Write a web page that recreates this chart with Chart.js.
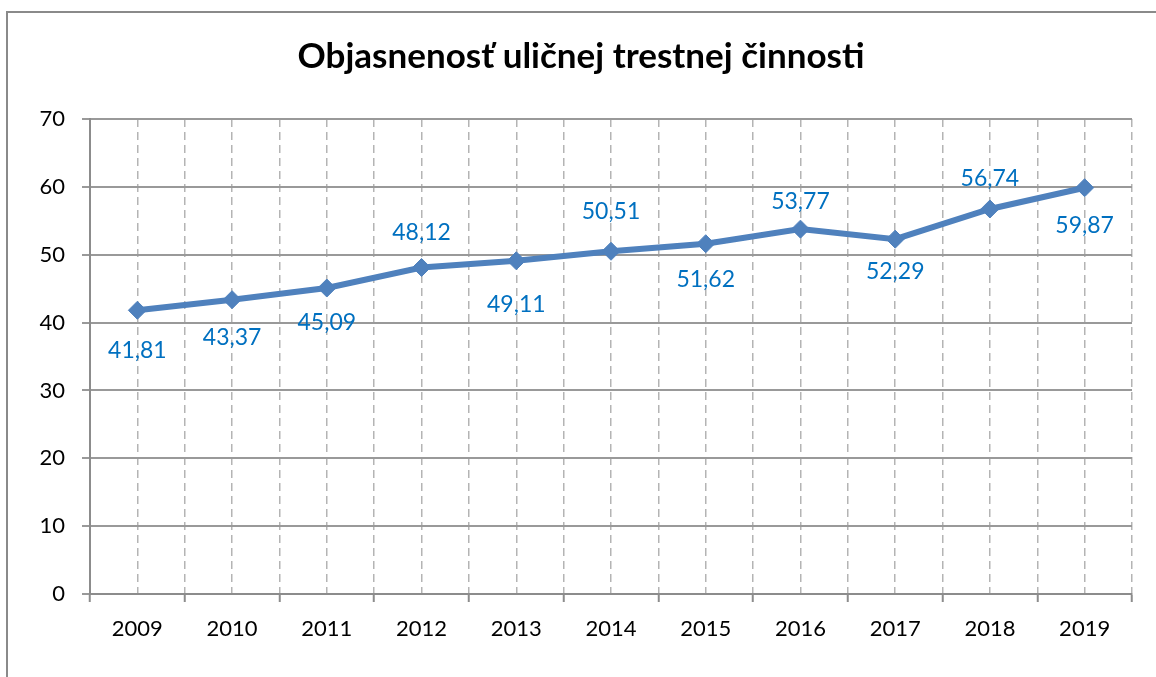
<!DOCTYPE html>
<html>
<head>
<meta charset="utf-8">
<script src="https://cdn.jsdelivr.net/npm/chart.js"></script>
<style>
  html, body { margin: 0; padding: 0; background: #fff; overflow: hidden; }
  #wrap { position: relative; width: 1156px; height: 677px; }
  #frame { position: absolute; left: 6px; top: 11px; width: 1200px; height: 720px; border: 2px solid #8a8a8a; }
  canvas { position: absolute; left: 0; top: 0; }
</style>
</head>
<body>
<div id="wrap">
  <div id="frame"></div>
  <canvas id="chartCanvas" width="1156" height="677"></canvas>
</div>
<script>
  // === Data ===
  const years = [2009, 2010, 2011, 2012, 2013, 2014, 2015, 2016, 2017, 2018, 2019];
  const values = [41.81, 43.37, 45.09, 48.12, 49.11, 50.51, 51.62, 53.77, 52.29, 56.74, 59.87];
  const yTicks = [0, 10, 20, 30, 40, 50, 60, 70];

  // vertical nudge of each value label from its point (px, negative = above)
  const labelShift = [40, 38, 35, -35, 44, -40, 36, -28, 32, -30, 38];

  const FONT = 'Lato';
  const AXIS_GRAY = '#8c8c8c';

  // === Data labels (no datalabels plugin available) ===
  const dataLabels = {
    id: 'dataLabels',
    afterDatasetsDraw(chart) {
      const { ctx } = chart;
      const meta = chart.getDatasetMeta(0);
      ctx.save();
      ctx.font = `23px ${FONT}`;
      ctx.fillStyle = '#0070C0';
      ctx.textAlign = 'center';
      ctx.textBaseline = 'middle';
      meta.data.forEach((pt, i) => {
        ctx.fillText(values[i].toFixed(2).replace('.', ','), pt.x, pt.y + labelShift[i]);
      });
      ctx.restore();
    }
  };

  const ctx = document.getElementById('chartCanvas').getContext('2d');
  const chart = new Chart(ctx, {
    type: 'line',
    data: {
      datasets: [{
        data: years.map((y, i) => ({ x: y, y: values[i] })),
        borderColor: '#4F81BD',
        borderWidth: 6,
        pointStyle: 'rectRot',
        pointRadius: 9,
        pointBorderWidth: 1,
        pointBackgroundColor: '#4F81BD',
        pointBorderColor: '#4F81BD',
        tension: 0,
        clip: false
      }]
    },
    options: {
      responsive: false,
      animation: false,
      layout: { padding: { left: 30, right: 24, top: 0, bottom: 0 } },
      plugins: {
        legend: { display: false },
        tooltip: { enabled: false },
        title: {
          display: true,
          text: 'Objasnenosť uličnej trestnej činnosti',
          color: '#000',
          font: { family: FONT, size: 35, weight: 'bold' },
          padding: { top: 36, bottom: 41 }
        }
      },
      scales: {
        x: {
          type: 'linear',
          min: years[0] - 0.5,
          max: years[years.length - 1] + 0.5,
          afterFit: (s) => { s.height = 83; },
          ticks: {
            stepSize: 0.5,
            maxTicksLimit: 40,
            autoSkip: false,
            maxRotation: 0,
            minRotation: 0,
            padding: 14,
            color: '#000',
            font: { family: FONT, size: 22 },
            callback: (v) => Number.isInteger(v) ? String(v) : ''
          },
          grid: {
            color: '#b4b4b4',
            lineWidth: 1.5,
            tickLength: 8,
            tickWidth: 2,
            tickBorderDash: [],
            tickColor: (c) => (c.tick && Number.isInteger(c.tick.value)) ? 'rgba(0,0,0,0)' : AXIS_GRAY
          },
          border: { display: true, color: AXIS_GRAY, width: 2, dash: [8, 5] }
        },
        y: {
          min: yTicks[0],
          max: yTicks[yTicks.length - 1],
          afterFit: (s) => { s.width = 60; },
          afterBuildTicks: (s) => { s.ticks = yTicks.map(v => ({ value: v })); },
          ticks: {
            padding: 17,
            color: '#000',
            font: { family: FONT, size: 22 }
          },
          grid: {
            color: '#999999',
            lineWidth: 2,
            tickLength: 8
          },
          border: { display: true, color: AXIS_GRAY, width: 2 }
        }
      }
    },
    plugins: [dataLabels]
  });
</script>
</body>
</html>
